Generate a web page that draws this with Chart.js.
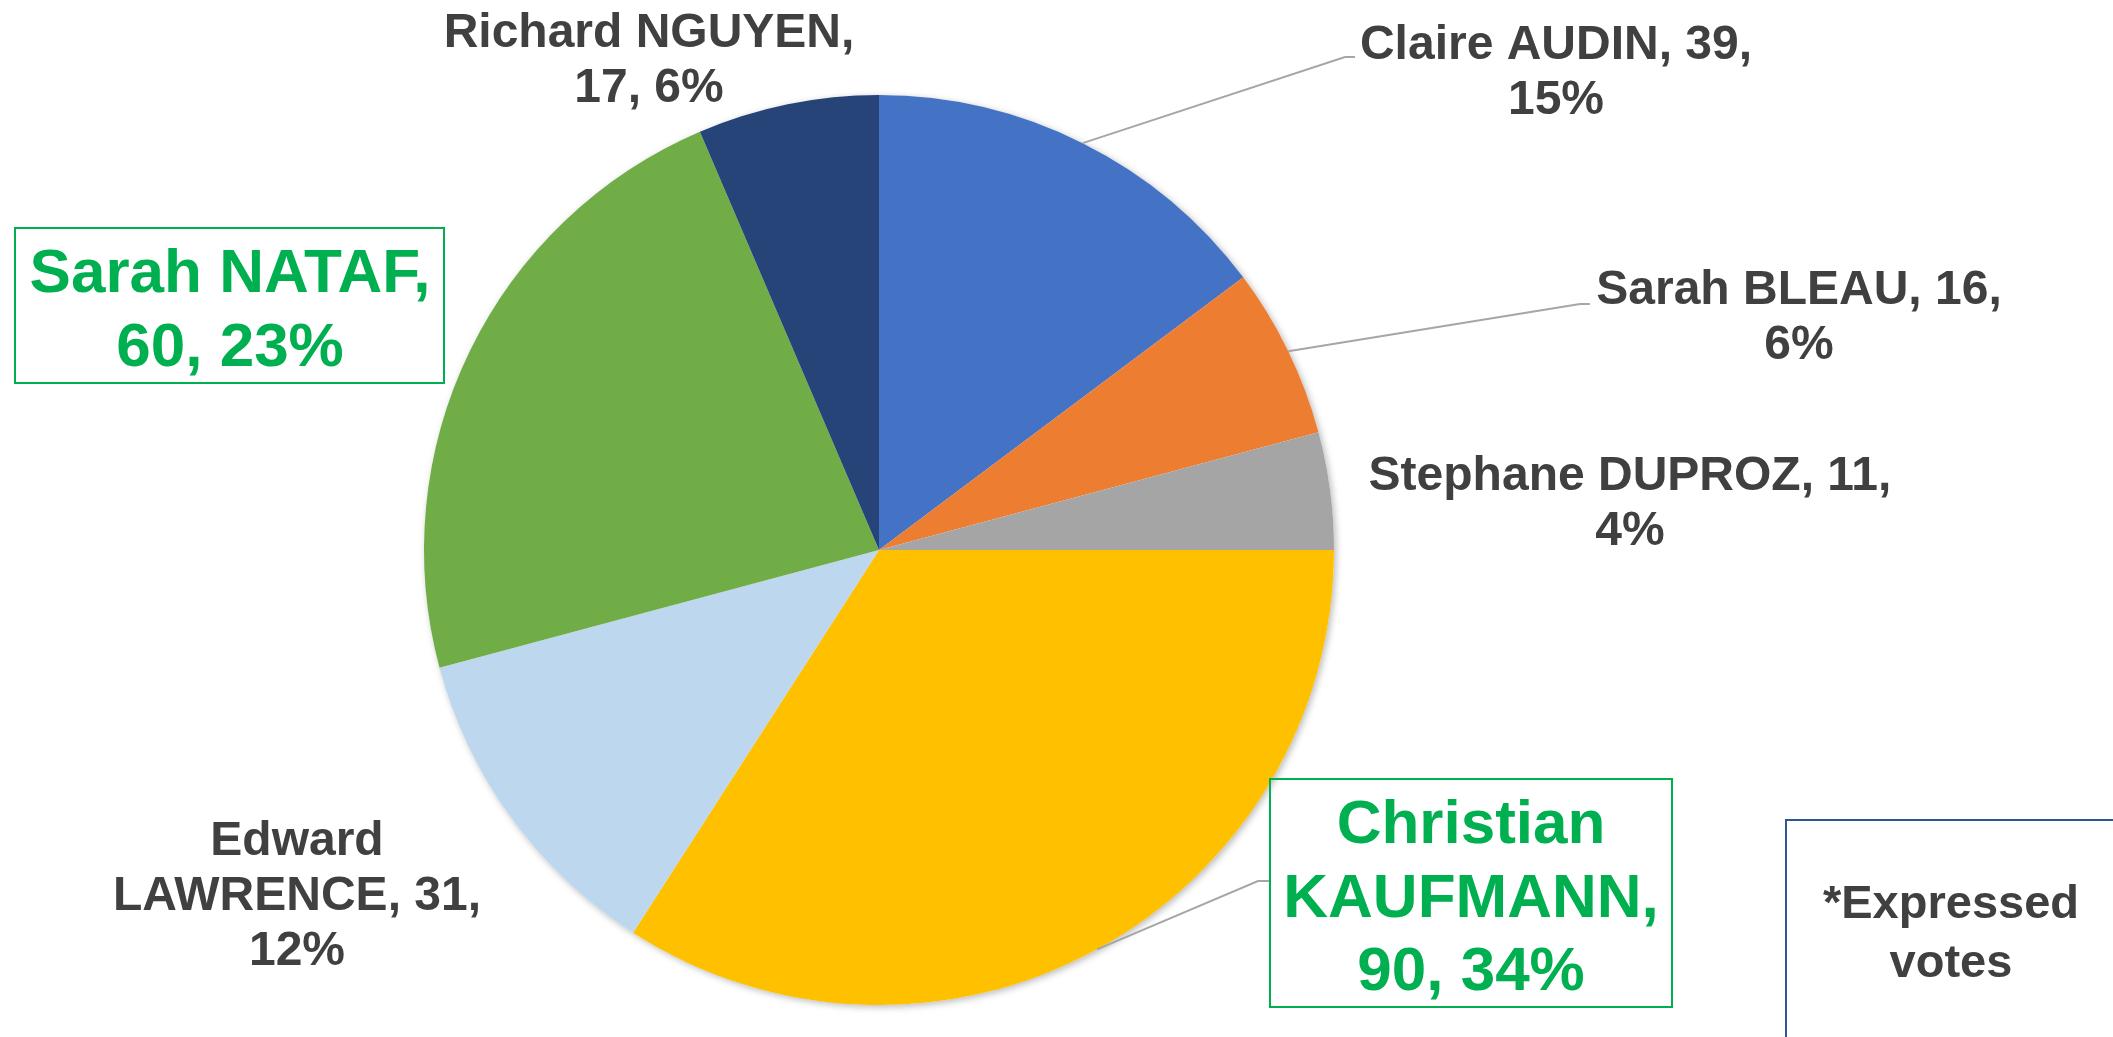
<!DOCTYPE html>
<html>
<head>
<meta charset="utf-8">
<title>Expressed votes</title>
<script src="https://cdn.jsdelivr.net/npm/chart.js@4.4.0/dist/chart.umd.min.js"></script>
<style>
    html, body { margin: 0; padding: 0; background: #ffffff; overflow: hidden; }
</style>
</head>
<body>
<canvas id="votesChart" width="2113" height="1037"></canvas>
<script>
// data
const candidates = ['Claire AUDIN', 'Sarah BLEAU', 'Stephane DUPROZ', 'Christian KAUFMANN', 'Edward LAWRENCE', 'Sarah NATAF', 'Richard NGUYEN'];
const votes = [39, 16, 11, 90, 31, 60, 17];
const sliceColors = ['#4472C4', '#ED7D31', '#A5A5A5', '#FFC000', '#BDD7EE', '#70AD47', '#264478'];
const noteLines = ['*Expressed', 'votes'];

const total = votes.reduce((a, b) => a + b, 0);

// where each label sits: centre x, first baseline, how many words per line
const labelLayout = [
    { x: 1556, y: 59, words: [3, 1], leader: [[1345, 57], [1355, 57]] },
    { x: 1799, y: 304, words: [3, 1], leader: [[1580, 304], [1590, 304]] },
    { x: 1630, y: 490, words: [3, 1], leader: null },
    { x: 1471, y: 843, words: [1, 1, 2], leader: [[1258, 881], [1270, 881]], big: true, box: [1270, 779, 402, 228] },
    { x: 297, y: 855, words: [1, 2, 1], leader: null },
    { x: 230, y: 292, words: [2, 2], leader: null, big: true, box: [15, 228, 429, 155] },
    { x: 649, y: 47, words: [2, 2], leader: null },
];

function splitLabel(i) {
    const pct = Math.round(votes[i] / total * 100) + '%';
    const parts = (candidates[i] + ', ' + votes[i] + ', ' + pct).split(' ');
    const lines = [];
    let k = 0;
    labelLayout[i].words.forEach((n) => {
        lines.push(parts.slice(k, k + n).join(' '));
        k += n;
    });
    return lines;
}

const pieShadow = {
    id: 'pieShadow',
    beforeDatasetsDraw(chart) {
        const arc = chart.getDatasetMeta(0).data[0];
        if (!arc) return;
        const ctx = chart.ctx;
        ctx.save();
        ctx.shadowColor = 'rgba(0, 0, 0, 0.28)';
        ctx.shadowBlur = 7;
        ctx.shadowOffsetX = 2;
        ctx.shadowOffsetY = 2;
        ctx.fillStyle = '#ffffff';
        ctx.beginPath();
        ctx.arc(arc.x, arc.y, arc.outerRadius, 0, Math.PI * 2);
        ctx.fill();
        ctx.restore();
    }
};

const sliceLabels = {
    id: 'sliceLabels',
    afterDraw(chart) {
        const ctx = chart.ctx;
        const meta = chart.getDatasetMeta(0);
        ctx.save();
        meta.data.forEach((arc, i) => {
            const lay = labelLayout[i];
            // leader line from the middle of the slice edge
            if (lay.leader) {
                const mid = (arc.startAngle + arc.endAngle) / 2;
                ctx.strokeStyle = '#A6A6A6';
                ctx.lineWidth = 2;
                ctx.beginPath();
                ctx.moveTo(arc.x + Math.cos(mid) * arc.outerRadius, arc.y + Math.sin(mid) * arc.outerRadius);
                lay.leader.forEach((p) => ctx.lineTo(p[0], p[1]));
                ctx.stroke();
            }
            if (lay.box) {
                ctx.strokeStyle = '#00B050';
                ctx.lineWidth = 2;
                ctx.strokeRect(lay.box[0], lay.box[1], lay.box[2], lay.box[3]);
            }
            const size = lay.big ? 62 : 48;
            const step = lay.big ? 73.5 : 55;
            ctx.font = 'bold ' + size + 'px "Liberation Sans", Arial, sans-serif';
            ctx.fillStyle = lay.big ? '#00B050' : '#404040';
            ctx.textAlign = 'center';
            ctx.textBaseline = 'alphabetic';
            splitLabel(i).forEach((line, j) => {
                ctx.fillText(line, lay.x, lay.y + j * step);
            });
        });

        // note box in the bottom right corner
        ctx.strokeStyle = '#2F5597';
        ctx.lineWidth = 2;
        ctx.strokeRect(1786, 820, 340, 300);
        ctx.font = 'bold 47px "Liberation Sans", Arial, sans-serif';
        ctx.fillStyle = '#404040';
        ctx.textAlign = 'center';
        noteLines.forEach((line, j) => {
            ctx.fillText(line, 1951, 918 + j * 59);
        });
        ctx.restore();
    }
};

const ctx = document.getElementById('votesChart').getContext('2d');
new Chart(ctx, {
    type: 'pie',
    data: {
        labels: candidates,
        datasets: [
            {
                data: votes,
                backgroundColor: sliceColors,
                borderWidth: 0,
                hoverOffset: 0,
            },
        ],
    },
    options: {
        responsive: false,
        animation: false,
        devicePixelRatio: 1,
        layout: {
            padding: { top: 95, bottom: 32, left: 424, right: 779 },
        },
        plugins: {
            legend: { display: false },
            tooltip: { enabled: false },
            title: { display: false },
        },
    },
    plugins: [pieShadow, sliceLabels],
});
</script>
</body>
</html>
